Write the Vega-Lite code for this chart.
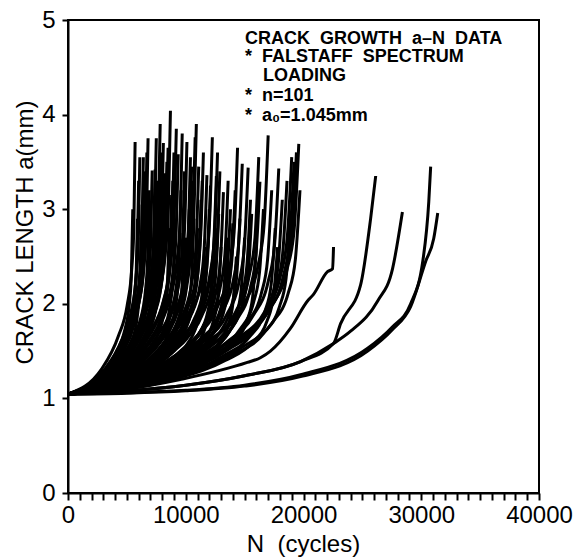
{
"$schema":"https://vega.github.io/schema/vega-lite/v6.json",
"width":471,"height":473,
"autosize":{"type":"none"},
"padding":{"left":68,"top":20,"right":40,"bottom":67},
"background":"white",
"config":{"view":{"stroke":"#000","strokeWidth":2},"font":"Liberation Sans"},
"encoding":{
"x":{"field":"n","type":"quantitative","scale":{"domain":[0,40000],"nice":false,"zero":false},
"axis":{"title":"N \u00a0(cycles)","tickCount":40,
"format":"d","labelExpr":"datum.value % 10000 === 0 ? datum.label : ''","labelOverlap":false,"labelFlush":false,"labelBound":false,"grid":false,
"domainColor":"#000","domainWidth":2,"tickColor":"#000","tickWidth":2,"tickSize":7,
"labelFontSize":24,"labelColor":"#000","labelFont":"Liberation Sans","labelBaseline":"alphabetic","labelPadding":22,
"titleFontSize":24,"titleFontWeight":"normal","titleColor":"#000","titleFont":"Liberation Sans","titleBaseline":"alphabetic","titleY":58,"titleX":235,"titleAlign":"center"}},
"y":{"field":"a","type":"quantitative","scale":{"domain":[0,5],"nice":false,"zero":false},
"axis":{"title":"CRACK LENGTH a(mm)","tickCount":50,
"format":"d","labelExpr":"datum.value % 1 === 0 ? datum.label : ''","labelOverlap":false,"labelFlush":false,"labelBound":false,"grid":false,
"domainColor":"#000","domainWidth":2,"tickColor":"#000","tickWidth":2,"tickSize":6,
"labelFontSize":24,"labelColor":"#000","labelFont":"Liberation Sans","labelPadding":7,"labelBaseline":"middle",
"titleFontSize":24,"titleFontWeight":"normal","titleColor":"#000","titleFont":"Liberation Sans","titleAngle":270,"titleBaseline":"middle","titleAlign":"center","titleX":-43,"titleY":212}}
},
"layer":[
{"data":{"values":[
{"c":1,"n":0,"a":1.045},{"c":1,"n":2850,"a":1.31},{"c":1,"n":4280,"a":1.66},{"c":1,"n":5020,"a":1.98},{"c":1,"n":5420,"a":2.38},{"c":1,"n":5590,"a":2.8},{"c":1,"n":5700,"a":3.71},
{"c":2,"n":0,"a":1.045},{"c":2,"n":3350,"a":1.3},{"c":2,"n":5030,"a":1.63},{"c":2,"n":5900,"a":1.94},{"c":2,"n":6370,"a":2.32},{"c":2,"n":6570,"a":2.73},{"c":2,"n":6700,"a":3.6},
{"c":3,"n":0,"a":1.045},{"c":3,"n":3580,"a":1.28},{"c":3,"n":5360,"a":1.59},{"c":3,"n":6290,"a":1.87},{"c":3,"n":6790,"a":2.23},{"c":3,"n":7010,"a":2.61},{"c":3,"n":7150,"a":3.41},
{"c":4,"n":0,"a":1.045},{"c":4,"n":3700,"a":1.28},{"c":4,"n":5550,"a":1.59},{"c":4,"n":6510,"a":1.88},{"c":4,"n":7030,"a":2.23},{"c":4,"n":7250,"a":2.61},{"c":4,"n":7400,"a":3.42},
{"c":5,"n":0,"a":1.045},{"c":5,"n":3920,"a":1.33},{"c":5,"n":5870,"a":1.7},{"c":5,"n":6890,"a":2.04},{"c":5,"n":7440,"a":2.47},{"c":5,"n":7670,"a":2.93},{"c":5,"n":7830,"a":3.9},
{"c":6,"n":0,"a":1.045},{"c":6,"n":4100,"a":1.28},{"c":6,"n":6150,"a":1.58},{"c":6,"n":7220,"a":1.86},{"c":6,"n":7790,"a":2.21},{"c":6,"n":8040,"a":2.59},{"c":6,"n":8200,"a":3.38},
{"c":7,"n":0,"a":1.045},{"c":7,"n":4350,"a":1.35},{"c":7,"n":6530,"a":1.73},{"c":7,"n":7660,"a":2.09},{"c":7,"n":8270,"a":2.54},{"c":7,"n":8530,"a":3.02},{"c":7,"n":8700,"a":4.04},
{"c":8,"n":0,"a":1.045},{"c":8,"n":4680,"a":1.3},{"c":8,"n":7020,"a":1.63},{"c":8,"n":8240,"a":1.93},{"c":8,"n":8890,"a":2.31},{"c":8,"n":9170,"a":2.72},{"c":8,"n":9360,"a":3.58},
{"c":9,"n":0,"a":1.045},{"c":9,"n":5050,"a":1.31},{"c":9,"n":7580,"a":1.66},{"c":9,"n":8890,"a":1.98},{"c":9,"n":9600,"a":2.38},{"c":9,"n":9900,"a":2.8},{"c":9,"n":10100,"a":3.71},
{"c":10,"n":0,"a":1.045},{"c":10,"n":5400,"a":1.32},{"c":10,"n":8100,"a":1.67},{"c":10,"n":9500,"a":2.0},{"c":10,"n":10260,"a":2.4},{"c":10,"n":10580,"a":2.84},{"c":10,"n":10800,"a":3.76},
{"c":11,"n":0,"a":1.045},{"c":11,"n":5900,"a":1.28},{"c":11,"n":8850,"a":1.58},{"c":11,"n":10380,"a":1.86},{"c":11,"n":11210,"a":2.2},{"c":11,"n":11560,"a":2.57},{"c":11,"n":11800,"a":3.36},
{"c":12,"n":0,"a":1.045},{"c":12,"n":6130,"a":1.32},{"c":12,"n":9200,"a":1.67},{"c":12,"n":10790,"a":2.0},{"c":12,"n":11650,"a":2.4},{"c":12,"n":12010,"a":2.84},{"c":12,"n":12260,"a":3.76},
{"c":13,"n":0,"a":1.045},{"c":13,"n":6600,"a":1.26},{"c":13,"n":9900,"a":1.54},{"c":13,"n":11620,"a":1.79},{"c":13,"n":12540,"a":2.11},{"c":13,"n":12940,"a":2.45},{"c":13,"n":13200,"a":3.18},
{"c":14,"n":0,"a":1.045},{"c":14,"n":6900,"a":1.24},{"c":14,"n":10350,"a":1.5},{"c":14,"n":12140,"a":1.73},{"c":14,"n":13110,"a":2.02},{"c":14,"n":13520,"a":2.34},{"c":14,"n":13800,"a":3.0},
{"c":15,"n":0,"a":1.045},{"c":15,"n":7400,"a":1.29},{"c":15,"n":11100,"a":1.61},{"c":15,"n":13020,"a":1.9},{"c":15,"n":14060,"a":2.26},{"c":15,"n":14500,"a":2.65},{"c":15,"n":14800,"a":3.48},
{"c":16,"n":0,"a":1.045},{"c":16,"n":7650,"a":1.29},{"c":16,"n":11480,"a":1.6},{"c":16,"n":13460,"a":1.88},{"c":16,"n":14540,"a":2.24},{"c":16,"n":14990,"a":2.63},{"c":16,"n":15300,"a":3.44},
{"c":17,"n":0,"a":1.045},{"c":17,"n":8150,"a":1.27},{"c":17,"n":12230,"a":1.56},{"c":17,"n":14340,"a":1.83},{"c":17,"n":15490,"a":2.17},{"c":17,"n":15970,"a":2.53},{"c":17,"n":16300,"a":3.29},
{"c":18,"n":0,"a":1.045},{"c":18,"n":8500,"a":1.32},{"c":18,"n":12750,"a":1.67},{"c":18,"n":14960,"a":2.0},{"c":18,"n":16150,"a":2.41},{"c":18,"n":16660,"a":2.85},{"c":18,"n":17000,"a":3.78},
{"c":19,"n":0,"a":1.045},{"c":19,"n":8950,"a":1.28},{"c":19,"n":13430,"a":1.59},{"c":19,"n":15750,"a":1.88},{"c":19,"n":17010,"a":2.24},{"c":19,"n":17540,"a":2.62},{"c":19,"n":17900,"a":3.43},
{"c":20,"n":0,"a":1.045},{"c":20,"n":9800,"a":1.31},{"c":20,"n":14700,"a":1.65},{"c":20,"n":17250,"a":1.97},{"c":20,"n":18620,"a":2.37},{"c":20,"n":19210,"a":2.79},{"c":20,"n":19600,"a":3.69},
{"c":21,"n":0,"a":1.045},{"c":21,"n":9700,"a":1.3},{"c":21,"n":14550,"a":1.63},{"c":21,"n":17070,"a":1.94},{"c":21,"n":18430,"a":2.32},{"c":21,"n":19010,"a":2.73},{"c":21,"n":19400,"a":3.6},
{"c":22,"n":0,"a":1.045},{"c":22,"n":9600,"a":1.29},{"c":22,"n":14400,"a":1.61},{"c":22,"n":16900,"a":1.9},{"c":22,"n":18240,"a":2.27},{"c":22,"n":18820,"a":2.67},{"c":22,"n":19200,"a":3.5},
{"c":23,"n":0,"a":1.045},{"c":23,"n":3000,"a":1.27},{"c":23,"n":4500,"a":1.56},{"c":23,"n":5280,"a":1.83},{"c":23,"n":5700,"a":2.17},{"c":23,"n":5880,"a":2.53},{"c":23,"n":6000,"a":3.3},
{"c":24,"n":0,"a":1.045},{"c":24,"n":3150,"a":1.25},{"c":24,"n":4730,"a":1.51},{"c":24,"n":5540,"a":1.75},{"c":24,"n":5990,"a":2.05},{"c":24,"n":6170,"a":2.37},{"c":24,"n":6300,"a":3.05},
{"c":25,"n":0,"a":1.045},{"c":25,"n":3250,"a":1.28},{"c":25,"n":4880,"a":1.59},{"c":25,"n":5720,"a":1.87},{"c":25,"n":6180,"a":2.22},{"c":25,"n":6370,"a":2.6},{"c":25,"n":6500,"a":3.4},
{"c":26,"n":0,"a":1.045},{"c":26,"n":3450,"a":1.26},{"c":26,"n":5180,"a":1.54},{"c":26,"n":6070,"a":1.8},{"c":26,"n":6560,"a":2.12},{"c":26,"n":6760,"a":2.47},{"c":26,"n":6900,"a":3.2},
{"c":27,"n":0,"a":1.045},{"c":27,"n":3500,"a":1.23},{"c":27,"n":5250,"a":1.47},{"c":27,"n":6160,"a":1.69},{"c":27,"n":6650,"a":1.97},{"c":27,"n":6860,"a":2.27},{"c":27,"n":7000,"a":2.9},
{"c":28,"n":0,"a":1.045},{"c":28,"n":3800,"a":1.27},{"c":28,"n":5700,"a":1.56},{"c":28,"n":6690,"a":1.83},{"c":28,"n":7220,"a":2.17},{"c":28,"n":7450,"a":2.53},{"c":28,"n":7600,"a":3.3},
{"c":29,"n":0,"a":1.045},{"c":29,"n":4000,"a":1.25},{"c":29,"n":6000,"a":1.52},{"c":29,"n":7040,"a":1.76},{"c":29,"n":7600,"a":2.07},{"c":29,"n":7840,"a":2.4},{"c":29,"n":8000,"a":3.1},
{"c":30,"n":0,"a":1.045},{"c":30,"n":4200,"a":1.29},{"c":30,"n":6300,"a":1.61},{"c":30,"n":7390,"a":1.9},{"c":30,"n":7980,"a":2.27},{"c":30,"n":8230,"a":2.67},{"c":30,"n":8400,"a":3.5},
{"c":31,"n":0,"a":1.045},{"c":31,"n":4450,"a":1.27},{"c":31,"n":6680,"a":1.56},{"c":31,"n":7830,"a":1.83},{"c":31,"n":8460,"a":2.17},{"c":31,"n":8720,"a":2.53},{"c":31,"n":8900,"a":3.3},
{"c":32,"n":0,"a":1.045},{"c":32,"n":4550,"a":1.23},{"c":32,"n":6830,"a":1.47},{"c":32,"n":8010,"a":1.69},{"c":32,"n":8650,"a":1.97},{"c":32,"n":8920,"a":2.27},{"c":32,"n":9100,"a":2.9},
{"c":33,"n":0,"a":1.045},{"c":33,"n":4800,"a":1.26},{"c":33,"n":7200,"a":1.54},{"c":33,"n":8450,"a":1.8},{"c":33,"n":9120,"a":2.12},{"c":33,"n":9410,"a":2.47},{"c":33,"n":9600,"a":3.2},
{"c":34,"n":0,"a":1.045},{"c":34,"n":4950,"a":1.28},{"c":34,"n":7430,"a":1.59},{"c":34,"n":8710,"a":1.87},{"c":34,"n":9410,"a":2.22},{"c":34,"n":9700,"a":2.6},{"c":34,"n":9900,"a":3.4},
{"c":35,"n":0,"a":1.045},{"c":35,"n":5150,"a":1.24},{"c":35,"n":7730,"a":1.5},{"c":35,"n":9060,"a":1.73},{"c":35,"n":9790,"a":2.02},{"c":35,"n":10090,"a":2.34},{"c":35,"n":10300,"a":3.0},
{"c":36,"n":0,"a":1.045},{"c":36,"n":5300,"a":1.27},{"c":36,"n":7950,"a":1.56},{"c":36,"n":9330,"a":1.83},{"c":36,"n":10070,"a":2.17},{"c":36,"n":10390,"a":2.53},{"c":36,"n":10600,"a":3.3},
{"c":37,"n":0,"a":1.045},{"c":37,"n":5500,"a":1.22},{"c":37,"n":8250,"a":1.45},{"c":37,"n":9680,"a":1.66},{"c":37,"n":10450,"a":1.92},{"c":37,"n":10780,"a":2.2},{"c":37,"n":11000,"a":2.8},
{"c":38,"n":0,"a":1.045},{"c":38,"n":5650,"a":1.25},{"c":38,"n":8480,"a":1.52},{"c":38,"n":9940,"a":1.76},{"c":38,"n":10740,"a":2.07},{"c":38,"n":11070,"a":2.4},{"c":38,"n":11300,"a":3.1},
{"c":39,"n":0,"a":1.045},{"c":39,"n":5800,"a":1.2},{"c":39,"n":8700,"a":1.4},{"c":39,"n":10210,"a":1.59},{"c":39,"n":11020,"a":1.82},{"c":39,"n":11370,"a":2.07},{"c":39,"n":11600,"a":2.6},
{"c":40,"n":0,"a":1.045},{"c":40,"n":6000,"a":1.24},{"c":40,"n":9000,"a":1.5},{"c":40,"n":10560,"a":1.73},{"c":40,"n":11400,"a":2.02},{"c":40,"n":11760,"a":2.34},{"c":40,"n":12000,"a":3.0},
{"c":41,"n":0,"a":1.045},{"c":41,"n":6250,"a":1.22},{"c":41,"n":9380,"a":1.45},{"c":41,"n":11000,"a":1.66},{"c":41,"n":11880,"a":1.92},{"c":41,"n":12250,"a":2.2},{"c":41,"n":12500,"a":2.8},
{"c":42,"n":0,"a":1.045},{"c":42,"n":6400,"a":1.24},{"c":42,"n":9600,"a":1.48},{"c":42,"n":11260,"a":1.71},{"c":42,"n":12160,"a":2.0},{"c":42,"n":12540,"a":2.3},{"c":42,"n":12800,"a":2.95},
{"c":43,"n":0,"a":1.045},{"c":43,"n":6500,"a":1.2},{"c":43,"n":9750,"a":1.4},{"c":43,"n":11440,"a":1.59},{"c":43,"n":12350,"a":1.82},{"c":43,"n":12740,"a":2.07},{"c":43,"n":13000,"a":2.6},
{"c":44,"n":0,"a":1.045},{"c":44,"n":6750,"a":1.21},{"c":44,"n":10130,"a":1.43},{"c":44,"n":11880,"a":1.62},{"c":44,"n":12830,"a":1.87},{"c":44,"n":13230,"a":2.14},{"c":44,"n":13500,"a":2.7},
{"c":45,"n":0,"a":1.045},{"c":45,"n":7000,"a":1.23},{"c":45,"n":10500,"a":1.46},{"c":45,"n":12320,"a":1.68},{"c":45,"n":13300,"a":1.95},{"c":45,"n":13720,"a":2.24},{"c":45,"n":14000,"a":2.85},
{"c":46,"n":0,"a":1.045},{"c":46,"n":7150,"a":1.19},{"c":46,"n":10730,"a":1.38},{"c":46,"n":12580,"a":1.55},{"c":46,"n":13590,"a":1.77},{"c":46,"n":14010,"a":2.01},{"c":46,"n":14300,"a":2.5},
{"c":47,"n":0,"a":1.045},{"c":47,"n":7300,"a":1.23},{"c":47,"n":10950,"a":1.47},{"c":47,"n":12850,"a":1.69},{"c":47,"n":13870,"a":1.97},{"c":47,"n":14310,"a":2.27},{"c":47,"n":14600,"a":2.9},
{"c":48,"n":0,"a":1.045},{"c":48,"n":7500,"a":1.21},{"c":48,"n":11250,"a":1.43},{"c":48,"n":13200,"a":1.62},{"c":48,"n":14250,"a":1.87},{"c":48,"n":14700,"a":2.14},{"c":48,"n":15000,"a":2.7},
{"c":49,"n":0,"a":1.045},{"c":49,"n":7800,"a":1.24},{"c":49,"n":11700,"a":1.48},{"c":49,"n":13730,"a":1.71},{"c":49,"n":14820,"a":2.0},{"c":49,"n":15290,"a":2.3},{"c":49,"n":15600,"a":2.95},
{"c":50,"n":0,"a":1.045},{"c":50,"n":8000,"a":1.2},{"c":50,"n":12000,"a":1.4},{"c":50,"n":14080,"a":1.59},{"c":50,"n":15200,"a":1.82},{"c":50,"n":15680,"a":2.07},{"c":50,"n":16000,"a":2.6},
{"c":51,"n":0,"a":1.045},{"c":51,"n":8300,"a":1.24},{"c":51,"n":12450,"a":1.5},{"c":51,"n":14610,"a":1.73},{"c":51,"n":15770,"a":2.02},{"c":51,"n":16270,"a":2.34},{"c":51,"n":16600,"a":3.0},
{"c":52,"n":0,"a":1.045},{"c":52,"n":8650,"a":1.26},{"c":52,"n":12980,"a":1.54},{"c":52,"n":15220,"a":1.8},{"c":52,"n":16440,"a":2.12},{"c":52,"n":16950,"a":2.47},{"c":52,"n":17300,"a":3.2},
{"c":53,"n":0,"a":1.045},{"c":53,"n":8800,"a":1.22},{"c":53,"n":13200,"a":1.45},{"c":53,"n":15490,"a":1.66},{"c":53,"n":16720,"a":1.92},{"c":53,"n":17250,"a":2.2},{"c":53,"n":17600,"a":2.8},
{"c":54,"n":0,"a":1.045},{"c":54,"n":9100,"a":1.25},{"c":54,"n":13650,"a":1.52},{"c":54,"n":16020,"a":1.76},{"c":54,"n":17290,"a":2.07},{"c":54,"n":17840,"a":2.4},{"c":54,"n":18200,"a":3.1},
{"c":55,"n":0,"a":1.045},{"c":55,"n":9300,"a":1.27},{"c":55,"n":13950,"a":1.56},{"c":55,"n":16370,"a":1.83},{"c":55,"n":17670,"a":2.17},{"c":55,"n":18230,"a":2.53},{"c":55,"n":18600,"a":3.3},
{"c":56,"n":0,"a":1.045},{"c":56,"n":9450,"a":1.23},{"c":56,"n":14180,"a":1.47},{"c":56,"n":16630,"a":1.69},{"c":56,"n":17960,"a":1.97},{"c":56,"n":18520,"a":2.27},{"c":56,"n":18900,"a":2.9},
{"c":57,"n":0,"a":1.045},{"c":57,"n":9500,"a":1.3},{"c":57,"n":14250,"a":1.62},{"c":57,"n":16720,"a":1.92},{"c":57,"n":18050,"a":2.3},{"c":57,"n":18620,"a":2.7},{"c":57,"n":19000,"a":3.55},
{"c":58,"n":0,"a":1.045},{"c":58,"n":3650,"a":1.21},{"c":58,"n":5480,"a":1.43},{"c":58,"n":6420,"a":1.62},{"c":58,"n":6940,"a":1.87},{"c":58,"n":7150,"a":2.14},{"c":58,"n":7300,"a":2.7},
{"c":59,"n":0,"a":1.045},{"c":59,"n":4300,"a":1.22},{"c":59,"n":6450,"a":1.45},{"c":59,"n":7570,"a":1.66},{"c":59,"n":8170,"a":1.92},{"c":59,"n":8430,"a":2.2},{"c":59,"n":8600,"a":2.8},
{"c":60,"n":0,"a":1.045},{"c":60,"n":4900,"a":1.19},{"c":60,"n":7350,"a":1.38},{"c":60,"n":8620,"a":1.55},{"c":60,"n":9310,"a":1.77},{"c":60,"n":9600,"a":2.01},{"c":60,"n":9800,"a":2.5},
{"c":61,"n":0,"a":1.045},{"c":61,"n":3050,"a":1.3},{"c":61,"n":4580,"a":1.62},{"c":61,"n":5370,"a":1.92},{"c":61,"n":5800,"a":2.3},{"c":61,"n":5980,"a":2.7},{"c":61,"n":6100,"a":3.55},
{"c":62,"n":0,"a":1.045},{"c":62,"n":3950,"a":1.3},{"c":62,"n":5930,"a":1.63},{"c":62,"n":6950,"a":1.94},{"c":62,"n":7510,"a":2.32},{"c":62,"n":7740,"a":2.73},{"c":62,"n":7900,"a":3.6},
{"c":63,"n":0,"a":1.045},{"c":63,"n":4500,"a":1.3},{"c":63,"n":6750,"a":1.63},{"c":63,"n":7920,"a":1.94},{"c":63,"n":8550,"a":2.32},{"c":63,"n":8820,"a":2.73},{"c":63,"n":9000,"a":3.6},
{"c":64,"n":0,"a":1.045},{"c":64,"n":5200,"a":1.3},{"c":64,"n":7800,"a":1.62},{"c":64,"n":9150,"a":1.92},{"c":64,"n":9880,"a":2.3},{"c":64,"n":10190,"a":2.7},{"c":64,"n":10400,"a":3.55},
{"c":65,"n":0,"a":1.045},{"c":65,"n":5550,"a":1.29},{"c":65,"n":8330,"a":1.6},{"c":65,"n":9770,"a":1.89},{"c":65,"n":10550,"a":2.25},{"c":65,"n":10880,"a":2.63},{"c":65,"n":11100,"a":3.45},
{"c":66,"n":0,"a":1.045},{"c":66,"n":6300,"a":1.28},{"c":66,"n":9450,"a":1.58},{"c":66,"n":11090,"a":1.85},{"c":66,"n":11970,"a":2.2},{"c":66,"n":12350,"a":2.57},{"c":66,"n":12600,"a":3.35},
{"c":67,"n":0,"a":1.045},{"c":67,"n":7100,"a":1.26},{"c":67,"n":10650,"a":1.54},{"c":67,"n":12500,"a":1.8},{"c":67,"n":13490,"a":2.12},{"c":67,"n":13920,"a":2.47},{"c":67,"n":14200,"a":3.2},
{"c":68,"n":0,"a":1.045},{"c":68,"n":2950,"a":1.23},{"c":68,"n":4430,"a":1.47},{"c":68,"n":5190,"a":1.69},{"c":68,"n":5610,"a":1.97},{"c":68,"n":5780,"a":2.27},{"c":68,"n":5900,"a":2.9},
{"c":69,"n":0,"a":1.045},{"c":69,"n":5000,"a":1.21},{"c":69,"n":7500,"a":1.43},{"c":69,"n":8800,"a":1.62},{"c":69,"n":9500,"a":1.87},{"c":69,"n":9800,"a":2.14},{"c":69,"n":10000,"a":2.7},
{"c":70,"n":0,"a":1.045},{"c":70,"n":6150,"a":1.19},{"c":70,"n":9230,"a":1.38},{"c":70,"n":10820,"a":1.55},{"c":70,"n":11690,"a":1.77},{"c":70,"n":12050,"a":2.01},{"c":70,"n":12300,"a":2.5},
{"c":71,"n":0,"a":1.045},{"c":71,"n":5000,"a":1.1},{"c":71,"n":9530,"a":1.2},{"c":71,"n":15230,"a":1.38},{"c":71,"n":16340,"a":1.43},{"c":71,"n":17190,"a":1.5},{"c":71,"n":18890,"a":1.74},{"c":71,"n":20340,"a":2.03},{"c":71,"n":20850,"a":2.1},{"c":71,"n":22040,"a":2.34},{"c":71,"n":22470,"a":2.37},{"c":71,"n":22550,"a":2.6},
{"c":72,"n":0,"a":1.045},{"c":72,"n":5000,"a":1.08},{"c":72,"n":10000,"a":1.14},{"c":72,"n":15000,"a":1.24},{"c":72,"n":19750,"a":1.39},{"c":72,"n":22550,"a":1.58},{"c":72,"n":23150,"a":1.79},{"c":72,"n":24850,"a":2.2},{"c":72,"n":25700,"a":2.9},{"c":72,"n":26130,"a":3.35},
{"c":73,"n":0,"a":1.045},{"c":73,"n":5000,"a":1.08},{"c":73,"n":10000,"a":1.14},{"c":73,"n":15000,"a":1.24},{"c":73,"n":19750,"a":1.39},{"c":73,"n":22550,"a":1.58},{"c":73,"n":24000,"a":1.71},{"c":73,"n":26300,"a":2.03},{"c":73,"n":27560,"a":2.37},{"c":73,"n":28400,"a":2.97},
{"c":74,"n":0,"a":1.045},{"c":74,"n":5000,"a":1.06},{"c":74,"n":10000,"a":1.085},{"c":74,"n":15000,"a":1.14},{"c":74,"n":19750,"a":1.25},{"c":74,"n":25450,"a":1.53},{"c":74,"n":27500,"a":1.75},{"c":74,"n":29100,"a":2.0},{"c":74,"n":30130,"a":2.45},{"c":74,"n":30640,"a":3.08},{"c":74,"n":30800,"a":3.45},
{"c":75,"n":0,"a":1.045},{"c":75,"n":5000,"a":1.055},{"c":75,"n":10000,"a":1.08},{"c":75,"n":15000,"a":1.13},{"c":75,"n":19750,"a":1.23},{"c":75,"n":25450,"a":1.5},{"c":75,"n":27500,"a":1.72},{"c":75,"n":29100,"a":1.97},{"c":75,"n":30380,"a":2.45},{"c":75,"n":31060,"a":2.69},{"c":75,"n":31400,"a":2.96},
{"c":76,"n":0,"a":1.045},{"c":76,"n":2750,"a":1.24},{"c":76,"n":4130,"a":1.5},{"c":76,"n":4840,"a":1.73},{"c":76,"n":5230,"a":2.02},{"c":76,"n":5390,"a":2.34},{"c":76,"n":5500,"a":3.0},
{"c":77,"n":0,"a":1.045},{"c":77,"n":3400,"a":1.32},{"c":77,"n":5100,"a":1.67},{"c":77,"n":5980,"a":1.99},{"c":77,"n":6460,"a":2.4},{"c":77,"n":6660,"a":2.83},{"c":77,"n":6800,"a":3.75},
{"c":78,"n":0,"a":1.045},{"c":78,"n":3850,"a":1.24},{"c":78,"n":5780,"a":1.48},{"c":78,"n":6780,"a":1.71},{"c":78,"n":7320,"a":2.0},{"c":78,"n":7550,"a":2.3},{"c":78,"n":7700,"a":2.95},
{"c":79,"n":0,"a":1.045},{"c":79,"n":4050,"a":1.31},{"c":79,"n":6080,"a":1.66},{"c":79,"n":7130,"a":1.97},{"c":79,"n":7700,"a":2.37},{"c":79,"n":7940,"a":2.8},{"c":79,"n":8100,"a":3.7},
{"c":80,"n":0,"a":1.045},{"c":80,"n":4600,"a":1.33},{"c":80,"n":6900,"a":1.69},{"c":80,"n":8100,"a":2.03},{"c":80,"n":8740,"a":2.45},{"c":80,"n":9020,"a":2.9},{"c":80,"n":9200,"a":3.85},
{"c":81,"n":0,"a":1.045},{"c":81,"n":4750,"a":1.22},{"c":81,"n":7130,"a":1.44},{"c":81,"n":8360,"a":1.64},{"c":81,"n":9030,"a":1.9},{"c":81,"n":9310,"a":2.17},{"c":81,"n":9500,"a":2.75},
{"c":82,"n":0,"a":1.045},{"c":82,"n":5350,"a":1.23},{"c":82,"n":8030,"a":1.47},{"c":82,"n":9420,"a":1.69},{"c":82,"n":10170,"a":1.97},{"c":82,"n":10490,"a":2.27},{"c":82,"n":10700,"a":2.9},
{"c":83,"n":0,"a":1.045},{"c":83,"n":5750,"a":1.3},{"c":83,"n":8630,"a":1.63},{"c":83,"n":10120,"a":1.94},{"c":83,"n":10930,"a":2.32},{"c":83,"n":11270,"a":2.73},{"c":83,"n":11500,"a":3.6},
{"c":84,"n":0,"a":1.045},{"c":84,"n":6450,"a":1.28},{"c":84,"n":9680,"a":1.59},{"c":84,"n":11350,"a":1.87},{"c":84,"n":12260,"a":2.22},{"c":84,"n":12640,"a":2.6},{"c":84,"n":12900,"a":3.4},
{"c":85,"n":0,"a":1.045},{"c":85,"n":6800,"a":1.27},{"c":85,"n":10200,"a":1.56},{"c":85,"n":11970,"a":1.83},{"c":85,"n":12920,"a":2.17},{"c":85,"n":13330,"a":2.53},{"c":85,"n":13600,"a":3.3},
{"c":86,"n":0,"a":1.045},{"c":86,"n":7200,"a":1.31},{"c":86,"n":10800,"a":1.64},{"c":86,"n":12670,"a":1.96},{"c":86,"n":13680,"a":2.35},{"c":86,"n":14110,"a":2.76},{"c":86,"n":14400,"a":3.65},
{"c":87,"n":0,"a":1.045},{"c":87,"n":7750,"a":1.25},{"c":87,"n":11630,"a":1.52},{"c":87,"n":13640,"a":1.76},{"c":87,"n":14730,"a":2.07},{"c":87,"n":15190,"a":2.4},{"c":87,"n":15500,"a":3.1},
{"c":88,"n":0,"a":1.045},{"c":88,"n":8100,"a":1.3},{"c":88,"n":12150,"a":1.62},{"c":88,"n":14260,"a":1.92},{"c":88,"n":15390,"a":2.3},{"c":88,"n":15880,"a":2.7},{"c":88,"n":16200,"a":3.55},
{"c":89,"n":0,"a":1.045},{"c":89,"n":8900,"a":1.2},{"c":89,"n":13350,"a":1.4},{"c":89,"n":15660,"a":1.59},{"c":89,"n":16910,"a":1.82},{"c":89,"n":17440,"a":2.07},{"c":89,"n":17800,"a":2.6},
{"c":90,"n":0,"a":1.045},{"c":90,"n":9850,"a":1.26},{"c":90,"n":14780,"a":1.54},{"c":90,"n":17340,"a":1.8},{"c":90,"n":18720,"a":2.12},{"c":90,"n":19310,"a":2.47},{"c":90,"n":19700,"a":3.2},
{"c":91,"n":0,"a":1.045},{"c":91,"n":3100,"a":1.21},{"c":91,"n":4650,"a":1.43},{"c":91,"n":5460,"a":1.62},{"c":91,"n":5890,"a":1.87},{"c":91,"n":6080,"a":2.14},{"c":91,"n":6200,"a":2.7},
{"c":92,"n":0,"a":1.045},{"c":92,"n":4400,"a":1.26},{"c":92,"n":6600,"a":1.53},{"c":92,"n":7740,"a":1.78},{"c":92,"n":8360,"a":2.1},{"c":92,"n":8620,"a":2.43},{"c":92,"n":8800,"a":3.15},
{"c":93,"n":0,"a":1.045},{"c":93,"n":5450,"a":1.33},{"c":93,"n":8180,"a":1.7},{"c":93,"n":9590,"a":2.04},{"c":93,"n":10360,"a":2.47},{"c":93,"n":10680,"a":2.93},{"c":93,"n":10900,"a":3.9},
{"c":94,"n":0,"a":1.045},{"c":94,"n":6050,"a":1.27},{"c":94,"n":9080,"a":1.55},{"c":94,"n":10650,"a":1.82},{"c":94,"n":11500,"a":2.15},{"c":94,"n":11860,"a":2.5},{"c":94,"n":12100,"a":3.25},
{"c":95,"n":0,"a":1.045},{"c":95,"n":3200,"a":1.3},{"c":95,"n":4800,"a":1.62},{"c":95,"n":5630,"a":1.92},{"c":95,"n":6080,"a":2.3},{"c":95,"n":6270,"a":2.7},{"c":95,"n":6400,"a":3.55},
{"c":96,"n":0,"a":1.045},{"c":96,"n":3750,"a":1.32},{"c":96,"n":5630,"a":1.67},{"c":96,"n":6600,"a":1.99},{"c":96,"n":7130,"a":2.4},{"c":96,"n":7350,"a":2.83},{"c":96,"n":7500,"a":3.75},
{"c":97,"n":0,"a":1.045},{"c":97,"n":4250,"a":1.31},{"c":97,"n":6380,"a":1.64},{"c":97,"n":7480,"a":1.96},{"c":97,"n":8080,"a":2.35},{"c":97,"n":8330,"a":2.76},{"c":97,"n":8500,"a":3.65},
{"c":98,"n":0,"a":1.045},{"c":98,"n":4850,"a":1.32},{"c":98,"n":7280,"a":1.68},{"c":98,"n":8540,"a":2.01},{"c":98,"n":9220,"a":2.42},{"c":98,"n":9510,"a":2.86},{"c":98,"n":9700,"a":3.8},
{"c":99,"n":0,"a":1.045},{"c":99,"n":5250,"a":1.29},{"c":99,"n":7880,"a":1.6},{"c":99,"n":9240,"a":1.89},{"c":99,"n":9980,"a":2.25},{"c":99,"n":10290,"a":2.63},{"c":99,"n":10500,"a":3.45},
{"c":100,"n":0,"a":1.045},{"c":100,"n":5700,"a":1.27},{"c":100,"n":8550,"a":1.56},{"c":100,"n":10030,"a":1.83},{"c":100,"n":10830,"a":2.17},{"c":100,"n":11170,"a":2.53},{"c":100,"n":11400,"a":3.3},
{"c":101,"n":0,"a":1.045},{"c":101,"n":6350,"a":1.3},{"c":101,"n":9530,"a":1.63},{"c":101,"n":11180,"a":1.94},{"c":101,"n":12070,"a":2.32},{"c":101,"n":12450,"a":2.73},{"c":101,"n":12700,"a":3.6}
]},
"mark":{"type":"line","color":"#000","strokeWidth":3,"interpolate":"monotone","clip":true},
"encoding":{"detail":{"field":"c","type":"nominal"}}},
{"data":{"values":[
{"t":"CRACK \u00a0GROWTH \u00a0a–N \u00a0DATA","n":15030,"a":4.8},
{"t":"* \u00a0FALSTAFF \u00a0SPECTRUM","n":15030,"a":4.61},
{"t":"LOADING","n":16560,"a":4.41},
{"t":"* \u00a0n=101","n":15030,"a":4.2},
{"t":"* \u00a0a₀=1.045mm","n":15030,"a":3.99}
]},
"mark":{"type":"text","align":"left","baseline":"middle","fontSize":18,"fontWeight":"bold","font":"Liberation Sans","color":"#000"},
"encoding":{"text":{"field":"t","type":"nominal"}}}
]
}
